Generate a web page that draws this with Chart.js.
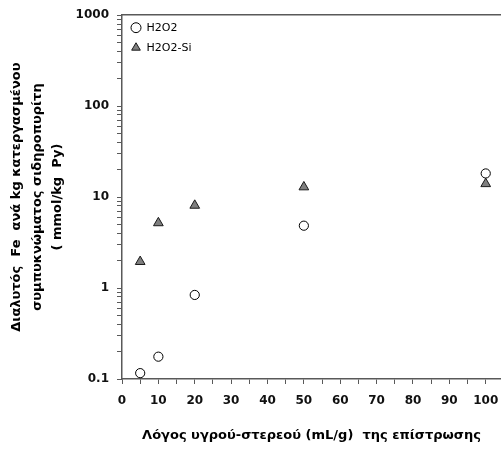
<!DOCTYPE html>
<html>
<head>
<meta charset="utf-8">
<script src="https://cdn.jsdelivr.net/npm/chart.js@4/dist/chart.umd.min.js"></script>
<style>
  html, body { margin: 0; padding: 0; background: #fff; overflow: hidden; }
  canvas { display: block; }
</style>
</head>
<body>
<canvas id="chart" width="501" height="455"></canvas>
<script>
// Liquid-to-solid ratio of the coating (mL/g)
const ratios = [5, 10, 20, 50, 100];
// Dissolved Fe per kg of treated pyrite concentrate (mmol/kg Py)
const h2o2 = [0.116, 0.176, 0.84, 4.85, 18.2];
const h2o2Si = [1.95, 5.2, 8.1, 12.9, 14.0];
const seriesNames = ['H2O2', 'H2O2-Si'];

const xTickLabels = [0, 10, 20, 30, 40, 50, 60, 70, 80, 90, 100];
const yTickLabels = [0.1, 1, 10, 100, 1000];

const yTitle = ['Διαλυτός  Fe  ανά kg κατεργασμένου', 'συμπυκνώματος σιδηροπυρίτη', '( mmol/kg  Py)'];
const xTitle = 'Λόγος υγρού-στερεού (mL/g)  της επίστρωσης';

const axisColor = '#595959';
const textFont = 'DejaVu Sans';
const xMax = 104.2;

const toPoints = ys => ratios.map((x, i) => ({ x: x, y: ys[i] }));

new Chart(document.getElementById('chart'), {
  type: 'scatter',
  data: {
    datasets: [
      {
        label: seriesNames[0],
        data: toPoints(h2o2),
        pointStyle: 'circle',
        pointRadius: 4.6,
        backgroundColor: '#ffffff',
        borderColor: '#000000',
        borderWidth: 1
      },
      {
        label: seriesNames[1],
        data: toPoints(h2o2Si),
        pointStyle: 'triangle',
        pointRadius: 5.6,
        backgroundColor: '#7f7f7f',
        borderColor: '#1a1a1a',
        borderWidth: 1
      }
    ]
  },
  options: {
    responsive: false,
    animation: false,
    layout: { autoPadding: false, padding: { top: 15, right: 0, bottom: 0, left: 0 } },
    plugins: {
      tooltip: { enabled: false },
      legend: {
        position: 'chartArea',
        align: 'start',
        // blank title row pushes the entries down inside the plot
        title: { display: true, text: ' ', padding: { top: 12, bottom: 0 }, font: { size: 1 } },
        labels: {
          usePointStyle: true,
          pointStyleWidth: 10,
          boxWidth: 7,
          boxHeight: 7,
          padding: 9,
          color: '#000',
          font: { family: textFont, size: 11 }
        }
      }
    },
    scales: {
      x: {
        type: 'linear',
        position: 'bottom',
        min: 0,
        max: xMax,
        afterBuildTicks: scale => {
          const ticks = [];
          xTickLabels.forEach((v, i) => {
            ticks.push({ value: v });
            if (i < xTickLabels.length - 1) ticks.push({ value: (v + xTickLabels[i + 1]) / 2 });
          });
          scale.ticks = ticks;
        },
        afterFit: scale => {
          scale.height = 76;
          scale.paddingLeft = 0;
          scale.paddingRight = 0;
        },
        ticks: {
          autoSkip: false,
          maxRotation: 0,
          padding: 10,
          color: '#111',
          font: { family: textFont, size: 12, weight: 'bold' },
          callback: v => (xTickLabels.includes(v) ? String(v) : '')
        },
        grid: { drawOnChartArea: false, drawTicks: true, tickLength: 5, color: axisColor, lineWidth: 1 },
        border: { display: true, color: axisColor, width: 1.5 },
        title: {
          display: true,
          text: xTitle,
          color: '#000',
          padding: { top: 0, bottom: 12 },
          font: { family: textFont, size: 13, weight: 'bold' }
        }
      },
      xTop: {
        type: 'linear',
        position: 'top',
        min: 0,
        max: xMax,
        afterFit: scale => {
          scale.height = 0;
          scale.paddingLeft = 0;
          scale.paddingRight = 0;
        },
        ticks: { display: false },
        grid: { display: false, drawTicks: false },
        border: { display: true, color: axisColor, width: 1.5 }
      },
      y: {
        type: 'logarithmic',
        position: 'left',
        min: 0.1,
        max: 1000,
        afterBuildTicks: scale => {
          const ticks = [];
          yTickLabels.forEach((v, i) => {
            ticks.push({ value: v });
            if (i < yTickLabels.length - 1) {
              for (let m = 2; m <= 9; m++) ticks.push({ value: v * m });
            }
          });
          scale.ticks = ticks;
        },
        afterFit: scale => { scale.width = 122; },
        ticks: {
          autoSkip: false,
          padding: 8,
          color: '#111',
          font: { family: textFont, size: 12, weight: 'bold' },
          callback: v => (yTickLabels.includes(v) ? String(v) : '')
        },
        grid: { drawOnChartArea: false, drawTicks: true, tickLength: 5, color: axisColor, lineWidth: 1 },
        border: { display: true, color: axisColor, width: 1.5 },
        title: {
          display: true,
          text: yTitle,
          color: '#000',
          padding: { top: 7, bottom: 0 },
          font: { family: textFont, size: 13, weight: 'bold', lineHeight: 1.55 }
        }
      }
    }
  }
});
</script>
</body>
</html>
